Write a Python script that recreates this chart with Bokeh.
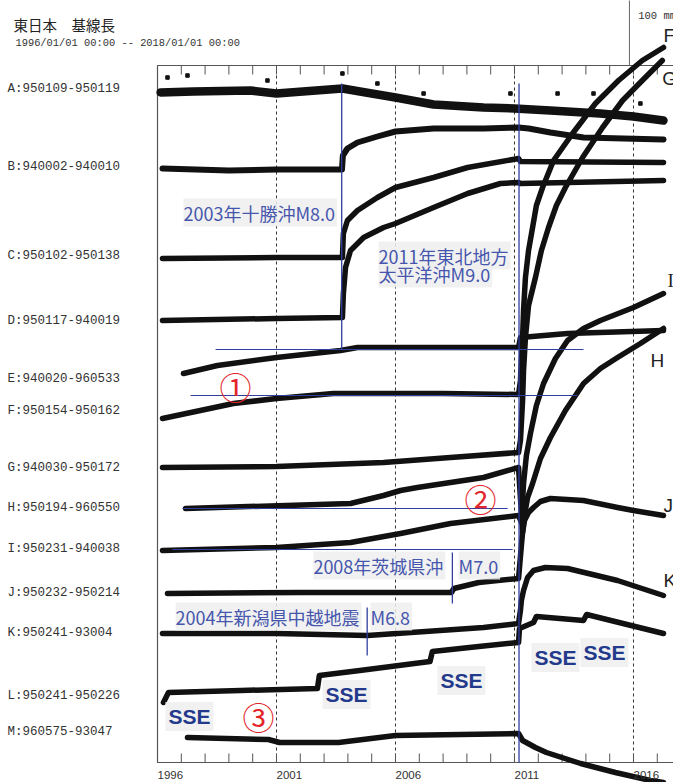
from bokeh.plotting import figure
from bokeh.models import Range1d
from bokeh.core.properties import value
from bokeh.embed import file_html
from bokeh.resources import INLINE

# ---------------- data (x: decimal year, y: plot units, 100 mm ~ 62 units) ----------------
station_labels = ["A:950109-950119", "B:940002-940010", "C:950102-950138", "D:950117-940019",
                  "E:940020-960533", "F:950154-950162", "G:940030-950172", "H:950194-960550",
                  "I:950231-940038", "J:950232-950214", "K:950241-93004", "L:950241-950226",
                  "M:960575-93047"]
station_pos = [674, 596, 507, 442, 384, 352, 295, 255, 214, 170, 130, 67, 31]

A_t = [1996.13, 1997.5, 1999.9, 2001.0, 2003.77, 2005.0, 2006.0, 2007.6, 2009.7, 2011.0, 2012.5, 2014.6, 2016.0, 2017.26]
A_v = [670, 671, 672, 669, 674, 669, 665, 658, 655, 654, 652, 649, 646, 642]
A_out_t = [1996.42, 1997.26, 2000.62, 2003.77, 2005.24, 2007.18, 2010.83, 2012.81, 2014.32, 2016.29]
A_out_v = [685, 687, 682, 689, 679, 669, 669, 669, 669, 659]

B_t = [1996.21, 1999.0, 2001.0, 2003.75, 2003.79, 2003.98, 2004.40, 2005.24, 2006.0, 2007.6, 2009.7, 2011.17, 2011.6, 2012.51, 2013.9, 2017.26]
B_v = [594, 592, 593, 593, 607, 614, 620, 626, 631, 634, 634, 635, 634, 630, 625, 623]

C_t = [1996.21, 2001.0, 2003.77, 2003.81, 2003.98, 2004.40, 2005.24, 2006.0, 2007.6, 2009.03, 2011.17, 2011.25, 2017.26]
C_v = [504, 505, 505, 529, 542, 552, 565, 575, 585, 595, 604, 601, 600]

D_t = [1996.21, 2001.0, 2003.77, 2003.81, 2003.9, 2004.11, 2004.66, 2005.5, 2006.0, 2007.6, 2009.03, 2010.41, 2011.17, 2011.25, 2017.26]
D_v = [442, 444, 445, 469, 495, 512, 525, 535, 539, 555, 569, 579, 580, 579, 582]

E_t = [1997.09, 1998.52, 2001.0, 2003.69, 2004.4, 2008.0, 2011.17, 2011.25, 2013.23, 2017.26]
E_v = [389, 397, 405, 412, 415, 415, 415, 425, 429, 432]

F_t = [1996.21, 1999.19, 2001.0, 2003.39, 2008.0, 2011.17, 2011.25, 2011.29, 2011.34, 2011.38, 2011.46,
       2011.59, 2011.76, 2011.92, 2012.18, 2012.64, 2013.44, 2014.40, 2015.37, 2016.37, 2017.26]
F_v = [344, 359, 364, 369, 369, 368, 382, 402, 425, 452, 485, 512, 535, 557, 575, 602, 629, 659, 682, 702, 715]

G_t = [1996.21, 2001.0, 2005.5, 2008.31, 2011.17, 2011.25, 2011.34, 2011.38, 2011.46, 2011.59, 2011.88,
       2012.13, 2012.43, 2012.76, 2013.14, 2013.86, 2014.70, 2015.54, 2016.37, 2017.21]
G_v = [295, 296, 300, 305, 310, 322, 362, 392, 425, 457, 485, 512, 535, 557, 575, 605, 635, 662, 682, 702]

H_t = [1997.18, 2004.11, 2005.5, 2006.21, 2006.92, 2009.7, 2011.17, 2011.34, 2011.42, 2011.55, 2011.76,
       2012.09, 2012.51, 2013.14, 2013.90, 2014.61, 2015.33, 2016.29, 2017.26]
H_v = [254, 259, 267, 272, 275, 285, 295, 230, 247, 265, 279, 304, 325, 352, 379, 394, 405, 419, 434]

I_t = [1996.21, 2001.0, 2004.11, 2006.21, 2008.31, 2011.17, 2011.29, 2011.34, 2011.38, 2011.50, 2011.67,
       2011.92, 2012.22, 2012.72, 2013.23, 2013.90, 2014.61, 2016.0, 2017.26]
I_v = [212, 215, 220, 229, 239, 247, 240, 262, 279, 307, 329, 357, 379, 404, 422, 434, 442, 455, 469]

J_t = [1996.42, 2002.0, 2008.35, 2008.45, 2009.5, 2011.17, 2011.29, 2011.34, 2011.42, 2011.59, 2011.80,
       2012.09, 2012.51, 2013.90, 2015.33, 2016.0, 2017.26]
J_v = [169, 170, 170, 174, 180, 184, 217, 230, 242, 250, 255, 261, 264, 262, 255, 252, 247]

K_t = [1996.21, 2001.0, 2004.82, 2009.7, 2011.17, 2011.25, 2011.29, 2011.38, 2011.55, 2011.80, 2012.30,
       2013.23, 2015.33, 2017.26]
K_v = [129, 129, 127, 135, 139, 152, 162, 172, 185, 192, 195, 194, 182, 167]

L_t = [1996.25, 1996.46, 1999.5, 2002.72, 2002.8, 2004.5, 2007.45, 2007.55, 2009.5, 2011.17, 2011.21,
       2011.8, 2011.92, 2013.9, 2014.03, 2017.26]
L_v = [60, 70, 72, 74, 87, 92, 101, 111, 116, 120, 134, 140, 146, 142, 148, 129]

M_t = [1997.26, 2000.66, 2001.13, 2003.61, 2006.0, 2011.17, 2011.34, 2011.88, 2012.34, 2013.78, 2015.24,
       2016.71, 2017.26]
M_v = [25, 23, 20, 20, 27, 29, 22, 15, 10, -1, -10, -18, -20]

series = [(A_t, A_v, 8.5), (B_t, B_v, 6), (C_t, C_v, 5.5), (D_t, D_v, 5.5), (E_t, E_v, 5.5),
          (F_t, F_v, 5.5), (G_t, G_v, 5.5), (H_t, H_v, 5.5), (I_t, I_v, 5.5), (J_t, J_v, 5.5),
          (K_t, K_v, 5.5), (L_t, L_v, 5.5), (M_t, M_v, 5.5)]

right_labels = ["F", "G", "H", "J", "K"]
right_t = [2017.26, 2017.21, 2016.71, 2017.26, 2017.26]
right_v = [727, 684, 402, 257, 182]
right_serif_labels = ["I"]
right_serif_t = [2017.43]
right_serif_v = [482]

tick_years = list(range(1997, 2018))
dash_years = [2001, 2006, 2011, 2016]
year_labels = ["1996", "2001", "2006", "2011", "2016"]
year_label_pos = [1996, 2001, 2006, 2011, 2016]

box_left, box_right, box_bottom, box_top = 1996.0, 2018.0, 0, 697
tick_len = 9

# events
ev_tokachi, ev_tohoku, ev_ibaraki, ev_niigata = 2003.74, 2011.19, 2008.39, 2004.81
ev_t = [ev_tokachi, ev_tohoku, ev_ibaraki, ev_niigata]
ev_v0 = [413, 0, 159, 107]
ev_v1 = [679, 679, 210, 155]

hline_v = [413, 367, 254, 213]
hline_t0 = [1998.44, 1997.39, 1997.05, 1996.63]
hline_t1 = [2013.90, 2013.65, 2010.71, 2010.92]

note_text = ["2003年十勝沖M8.0", "2011年東北地方", "太平洋沖M9.0", "2008年茨城県沖", "M7.0",
             "2004年新潟県中越地震", "M6.8"]
note_t = [1997.09, 2005.29, 2005.29, 2002.55, 2008.65, 1996.76, 2004.95]
note_v = [550, 507, 489, 197, 197, 146, 146]

sse_t = [1997.34, 2003.94, 2008.77, 2012.72, 2014.78]
sse_v = [46, 68, 82, 105, 110]

circ_text = ["①", "②", "③"]
circ_t = [1999.28, 2009.57, 2000.24]
circ_v = [377, 265, 47]

scale_t = 2015.83

# ---------------- figure ----------------
p = figure(width=673, height=782, x_range=Range1d(1989.403, 2017.681), y_range=Range1d(-20, 762),
           output_backend="svg", toolbar_location=None, x_axis_location=None, y_axis_location=None,
           min_border=0)
p.grid.visible = False
p.outline_line_color = None
p.background_fill_color = "white"
p.border_fill_color = "white"

frame_col = "#555555"
# dashed year lines
p.segment(x0=dash_years, y0=[box_bottom] * 4, x1=dash_years, y1=[box_top] * 4,
          line_color="#333333", line_width=1, line_dash="3 3")
# frame
p.line(x=[box_right, box_left, box_left, box_right], y=[box_top, box_top, box_bottom, box_bottom],
       line_color=frame_col, line_width=1.2)
# ticks
n = len(tick_years)
p.segment(x0=tick_years, y0=[box_top] * n, x1=tick_years, y1=[box_top - tick_len] * n,
          line_color=frame_col, line_width=1)
p.segment(x0=tick_years, y0=[box_bottom] * n, x1=tick_years, y1=[box_bottom + tick_len] * n,
          line_color=frame_col, line_width=1)
# scale bar
p.segment(x0=[scale_t], y0=[box_top], x1=[scale_t], y1=[770], line_color="#666666", line_width=1)
p.text(x=[scale_t + 0.37], y=[747], text=["100 mm"], text_font=value("Liberation Mono"),
       text_font_size=value("10.5px"), text_color="#333333", text_baseline="middle", text_align="left")

# series
for t, v, w in series:
    p.line(x=t, y=v, line_color="#111111", line_width=w, line_join="round", line_cap="round")
p.scatter(x=A_out_t, y=A_out_v, size=3.5, marker="square", color="#111111")

# blue event lines
blue = "#2f3f9f"
p.segment(x0=ev_t, y0=ev_v0, x1=ev_t, y1=ev_v1, line_color=blue, line_width=1.3)
p.segment(x0=hline_t0, y0=hline_v, x1=hline_t1, y1=hline_v, line_color=blue, line_width=1.2)

# annotation texts: background boxes first, then the text itself on top
note_style = dict(text_font=value("Noto Sans CJK JP"), text_font_size=value("18px"),
                  text_align="left", text_baseline="middle")
p.text(x=note_t, y=note_v, text=note_text, text_alpha=0.0,
       background_fill_color="#eeeeee", background_fill_alpha=0.85, padding=1, **note_style)
p.text(x=note_t, y=note_v, text=note_text, text_color="#4656ad", **note_style)

p.text(x=sse_t, y=sse_v, text=["SSE"] * len(sse_t), text_font=value("Liberation Sans"),
       text_font_style="bold", text_font_size=value("21px"), text_color="#23398c",
       text_align="center", text_baseline="middle",
       background_fill_color="#eeeeee", background_fill_alpha=0.85, padding=3)
p.text(x=circ_t, y=circ_v, text=circ_text, text_font=value("Noto Sans CJK JP"),
       text_font_size=value("32px"), text_color="#e3262b", text_align="center", text_baseline="middle")

# right labels
p.text(x=right_t, y=right_v, text=right_labels, text_font=value("Liberation Sans"),
       text_font_size=value("19px"), text_color="#222222", text_align="left", text_baseline="middle")
p.text(x=right_serif_t, y=right_serif_v, text=right_serif_labels, text_font=value("Liberation Serif"),
       text_font_size=value("19px"), text_color="#222222", text_align="left", text_baseline="middle")

# station labels
p.text(x=[1989.70] * len(station_labels), y=station_pos, text=station_labels,
       text_font=value("Liberation Mono"), text_font_size=value("12.5px"), text_color="#333333",
       text_align="left", text_baseline="middle")

# year labels
p.text(x=year_label_pos, y=[-12] * len(year_labels), text=year_labels,
       text_font=value("Liberation Sans"), text_font_size=value("11.5px"), text_color="#333333",
       text_align="left", text_baseline="middle")

# title
p.text(x=[1989.95], y=[738], text=["東日本　基線長"], text_font=value("Noto Sans CJK JP"),
       text_font_size=value("14.5px"), text_color="#222222", text_align="left", text_baseline="middle")
p.text(x=[1990.03], y=[720], text=["1996/01/01 00:00 -- 2018/01/01 00:00"],
       text_font=value("Liberation Mono"), text_font_size=value("10.4px"), text_color="#333333",
       text_align="left", text_baseline="middle")

open("out.html", "w").write(file_html(p, INLINE))
